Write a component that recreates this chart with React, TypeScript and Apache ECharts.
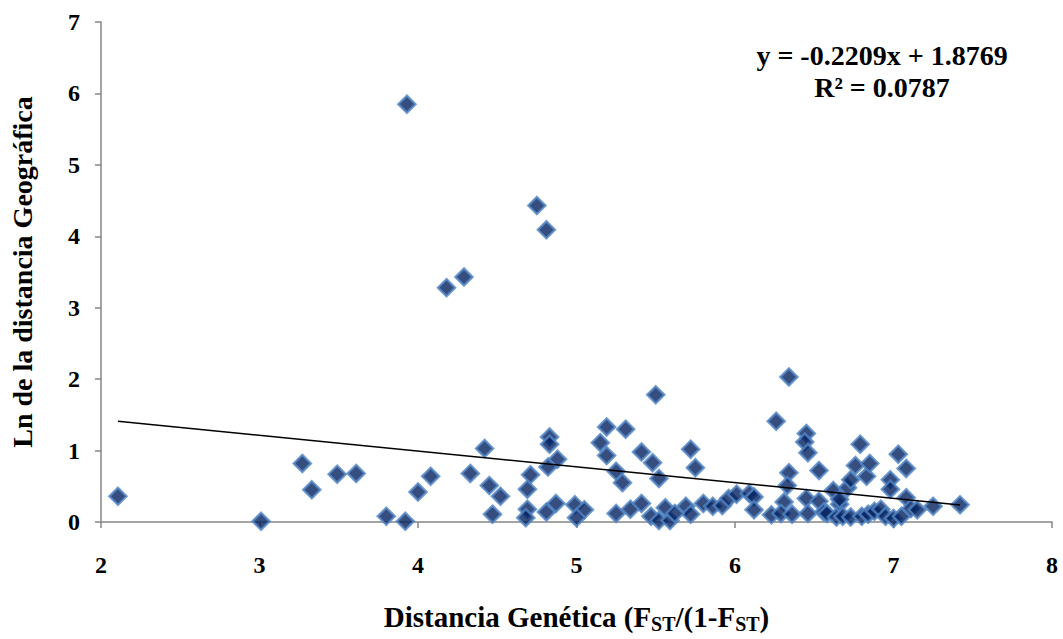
import React, { useEffect, useRef } from "react";
import * as echarts from "echarts";

const xValues = [
  2.107, 3.01, 3.27, 3.33, 3.49, 3.61, 3.8, 3.92, 3.93, 4.0, 4.08, 4.18, 4.29, 4.33, 4.42, 4.45, 4.52, 4.47,
  4.75, 4.81, 4.83, 4.83, 4.88, 4.82, 4.71, 4.69, 4.69, 4.68, 4.81, 4.87, 4.99, 5.05, 5.0, 5.15, 5.19, 5.19,
  5.31, 5.25, 5.29, 5.25, 5.34, 5.41, 5.41, 5.48, 5.5, 5.52, 5.47, 5.52, 5.56, 5.59, 5.72, 5.75, 5.69, 5.72,
  5.8, 5.86, 5.92, 5.96, 6.01, 6.09, 6.12, 6.12, 6.23, 6.26, 6.34, 6.34, 6.33, 6.31, 6.29, 6.36, 6.45, 6.44,
  6.46, 6.53, 6.45, 6.46, 6.53, 6.56, 6.58, 6.62, 6.66, 6.64, 6.68, 6.71, 6.73, 6.76, 6.79, 6.83, 6.85, 6.73,
  6.8, 6.84, 6.88, 6.92, 6.95, 6.98, 6.98, 7.03, 7.08, 7.0, 7.05, 7.08, 7.11, 7.15, 7.25, 7.42, 6.66, 5.62,
];
const yValues = [
  0.36, 0.01, 0.82, 0.45, 0.67, 0.68, 0.08, 0.01, 5.85, 0.42, 0.64, 3.28, 3.43, 0.68, 1.03, 0.51, 0.36, 0.11,
  4.43, 4.09, 1.19, 1.09, 0.88, 0.77, 0.66, 0.46, 0.18, 0.06, 0.14, 0.26, 0.24, 0.17, 0.06, 1.11, 1.33, 0.93,
  1.3, 0.71, 0.55, 0.12, 0.18, 0.26, 0.98, 0.83, 1.78, 0.61, 0.08, 0.02, 0.2, 0.02, 1.02, 0.76, 0.22, 0.11,
  0.26, 0.22, 0.23, 0.33, 0.39, 0.4, 0.35, 0.17, 0.1, 1.41, 2.03, 0.69, 0.51, 0.28, 0.12, 0.11, 1.24, 1.12,
  0.97, 0.72, 0.33, 0.12, 0.29, 0.14, 0.12, 0.44, 0.25, 0.07, 0.08, 0.48, 0.59, 0.79, 1.09, 0.64, 0.82, 0.07,
  0.08, 0.11, 0.15, 0.18, 0.08, 0.59, 0.46, 0.95, 0.75, 0.05, 0.08, 0.34, 0.19, 0.17, 0.22, 0.24, 0.32, 0.12,
];

const trendSlope = -0.2209;
const trendIntercept = 1.8769;
const equationText = "y = -0.2209x + 1.8769";
const r2Text = "R² = 0.0787";
const xTicks = [2, 3, 4, 5, 6, 7, 8];
const yTicks = [0, 1, 2, 3, 4, 5, 6, 7];

export default function App() {
  const ref = useRef<HTMLDivElement>(null);
  useEffect(() => {
    if (!ref.current) return;
    const chart = echarts.init(ref.current, null, { renderer: "svg" });
    const points = xValues.map((x, i) => [x, yValues[i]]);
    const xMin = Math.min(...xValues);
    const xMax = Math.max(...xValues);
    const trend = [
      [xMin, trendSlope * xMin + trendIntercept],
      [xMax, trendSlope * xMax + trendIntercept],
    ];
    const font = "'Liberation Serif', 'Times New Roman', serif";
    const axisColor = "#868686";
    chart.setOption({
      animation: false,
      backgroundColor: "#ffffff",
      grid: { left: 95, right: 11, top: 22, bottom: 111, containLabel: false },
      xAxis: {
        type: "value",
        min: xTicks[0],
        max: xTicks[xTicks.length - 1],
        interval: 1,
        name: "{m|Distancia Genética (F}{s|ST}{m|/(1-F}{s|ST}{m|)}",
        nameLocation: "middle",
        nameGap: 78,
        nameTextStyle: {
          rich: {
            m: { fontFamily: font, fontWeight: "bold", fontSize: 29, color: "#000" },
            s: { fontFamily: font, fontWeight: "bold", fontSize: 20, color: "#000", verticalAlign: "bottom", padding: [14, 0, 0, 0] },
          },
        },
        axisLine: { show: true, onZero: false, lineStyle: { color: axisColor, width: 1.5 } },
        axisTick: { show: true, inside: false, length: 6, lineStyle: { color: axisColor, width: 1.5 } },
        axisLabel: { fontFamily: font, fontWeight: "bold", fontSize: 24, color: "#000", margin: 31 },
        splitLine: { show: false },
      },
      yAxis: {
        type: "value",
        min: yTicks[0],
        max: yTicks[yTicks.length - 1],
        interval: 1,
        name: "Ln de la distancia Geográfica",
        nameLocation: "middle",
        nameGap: 65,
        nameRotate: 90,
        nameTextStyle: { fontFamily: font, fontWeight: "bold", fontSize: 28, color: "#000" },
        axisLine: { show: true, onZero: false, lineStyle: { color: axisColor, width: 1.5 } },
        axisTick: { show: true, inside: false, length: 6, lineStyle: { color: axisColor, width: 1.5 } },
        axisLabel: { fontFamily: font, fontWeight: "bold", fontSize: 24, color: "#000", margin: 21 },
        splitLine: { show: false },
      },
      series: [
        {
          type: "scatter",
          data: points,
          symbol: "diamond",
          symbolSize: 17,
          itemStyle: { color: "#02205f", borderColor: "#5286c4", borderWidth: 2.5 },
          z: 2,
        },
        {
          type: "line",
          data: trend,
          symbol: "none",
          lineStyle: { color: "#000", width: 1.5 },
          z: 3,
        },
      ],
      graphic: [
        {
          type: "text",
          x: 882,
          y: 55,
          style: { text: equationText, fontFamily: font, fontWeight: "bold", fontSize: 28, fill: "#000", align: "center", verticalAlign: "middle" },
        },
        {
          type: "text",
          x: 882,
          y: 87,
          style: { text: r2Text, fontFamily: font, fontWeight: "bold", fontSize: 28, fill: "#000", align: "center", verticalAlign: "middle" },
        },
      ],
    });
    return () => chart.dispose();
  }, []);
  return <div ref={ref} style={{ width: 1063, height: 639, position: "absolute", left: 0, top: 0 }} />;
}
